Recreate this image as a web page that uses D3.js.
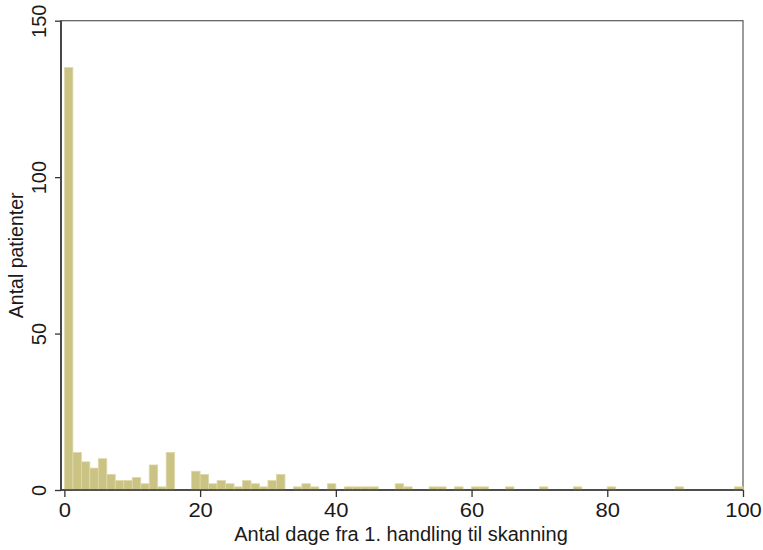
<!DOCTYPE html>
<html>
<head>
<meta charset="utf-8">
<script src="https://cdn.jsdelivr.net/npm/d3@7"></script>
<style>
  html, body { margin: 0; padding: 0; background: #fff; }
  svg { display: block; }
  text { font-family: "Liberation Sans", Arial, Helvetica, sans-serif; fill: #1a1a1a; }
</style>
</head>
<body>
<svg id="chart" width="763" height="550"></svg>
<script>
// Histogram: days from first action to scan, bins of 1.25 days (0–100)
const binWidth = 1.25;
const binCounts = [
  135, 12, 9, 7, 10, 5, 3, 3, 4, 2,
  8, 1, 12, 0, 0, 6, 5, 2, 3, 2,
  1, 3, 2, 1, 3, 5, 0, 1, 2, 1,
  0, 2, 0, 1, 1, 1, 1, 0, 0, 2,
  1, 0, 0, 1, 1, 0, 1, 0, 1, 1,
  0, 0, 1, 0, 0, 0, 1, 0, 0, 0,
  1, 0, 0, 0, 1, 0, 0, 0, 0, 0,
  0, 0, 1, 0, 0, 0, 0, 0, 0, 1
];
const xTicks = [0, 20, 40, 60, 80, 100];
const yTicks = [0, 50, 100, 150];
const xTitle = "Antal dage fra 1. handling til skanning";
const yTitle = "Antal patienter";

const bins = binCounts.map((c, i) => ({ x0: i * binWidth, x1: (i + 1) * binWidth, count: c }));

const svg = d3.select("#chart");
const plotL = 61, plotR = 743, plotT = 20.7, plotB = 490;

const x = d3.scaleLinear().domain([-0.5, 100]).range([plotL, plotR]);
const y = d3.scaleLinear().domain([0, 150]).range([plotB, plotT]);

// plot frame
svg.append("rect")
  .attr("x", plotL).attr("y", plotT)
  .attr("width", plotR - plotL).attr("height", plotB - plotT)
  .attr("fill", "none").attr("stroke", "#5a5a5a").attr("stroke-width", 1.2);

// bars
svg.append("g").selectAll("rect")
  .data(bins.filter(b => b.count > 0))
  .join("rect")
  .attr("x", d => x(d.x0))
  .attr("width", d => x(d.x1) - x(d.x0))
  .attr("y", d => y(d.count))
  .attr("height", d => y(0) - y(d.count))
  .attr("fill", "#cbc384")
  .attr("stroke", "#ddd8a8")
  .attr("stroke-width", 0.8);

// x axis
const xAxis = svg.append("g")
  .attr("transform", `translate(0,${plotB})`)
  .call(d3.axisBottom(x).tickValues(xTicks).tickSize(7).tickPadding(6).tickFormat(d3.format("d")));
xAxis.select(".domain").attr("stroke", "#333").attr("stroke-width", 1.6)
  .attr("d", `M${plotL},0H${plotR}`);
xAxis.selectAll(".tick line").attr("stroke", "#333").attr("stroke-width", 1.3);
xAxis.selectAll(".tick text")
  .attr("font-size", 20)
  .attr("font-family", null)
  .attr("fill", "#1a1a1a")
  .attr("transform", "scale(1.1,1)");

// y axis
const yAxis = svg.append("g")
  .attr("transform", `translate(${plotL},0)`)
  .call(d3.axisLeft(y).tickValues(yTicks).tickSize(6).tickFormat(d3.format("d")));
yAxis.select(".domain").attr("stroke", "#333").attr("stroke-width", 1.6)
  .attr("d", `M0,${plotB}V${plotT}`);
yAxis.selectAll(".tick line").attr("stroke", "#333").attr("stroke-width", 1.3);
yAxis.selectAll(".tick text").remove();
yAxis.selectAll(".tick").append("text")
  .attr("transform", "translate(-15,0) rotate(-90)")
  .attr("text-anchor", "middle")
  .attr("font-size", 20)
  .attr("fill", "#1a1a1a")
  .text(d => d);

// axis titles
svg.append("text")
  .attr("x", (plotL + plotR) / 2 - 1)
  .attr("y", 541)
  .attr("text-anchor", "middle")
  .attr("font-size", 20)
  .text(xTitle);

svg.append("text")
  .attr("transform", `translate(23,${(plotT + plotB) / 2}) rotate(-90)`)
  .attr("text-anchor", "middle")
  .attr("font-size", 19.5)
  .text(yTitle);
</script>
</body>
</html>
